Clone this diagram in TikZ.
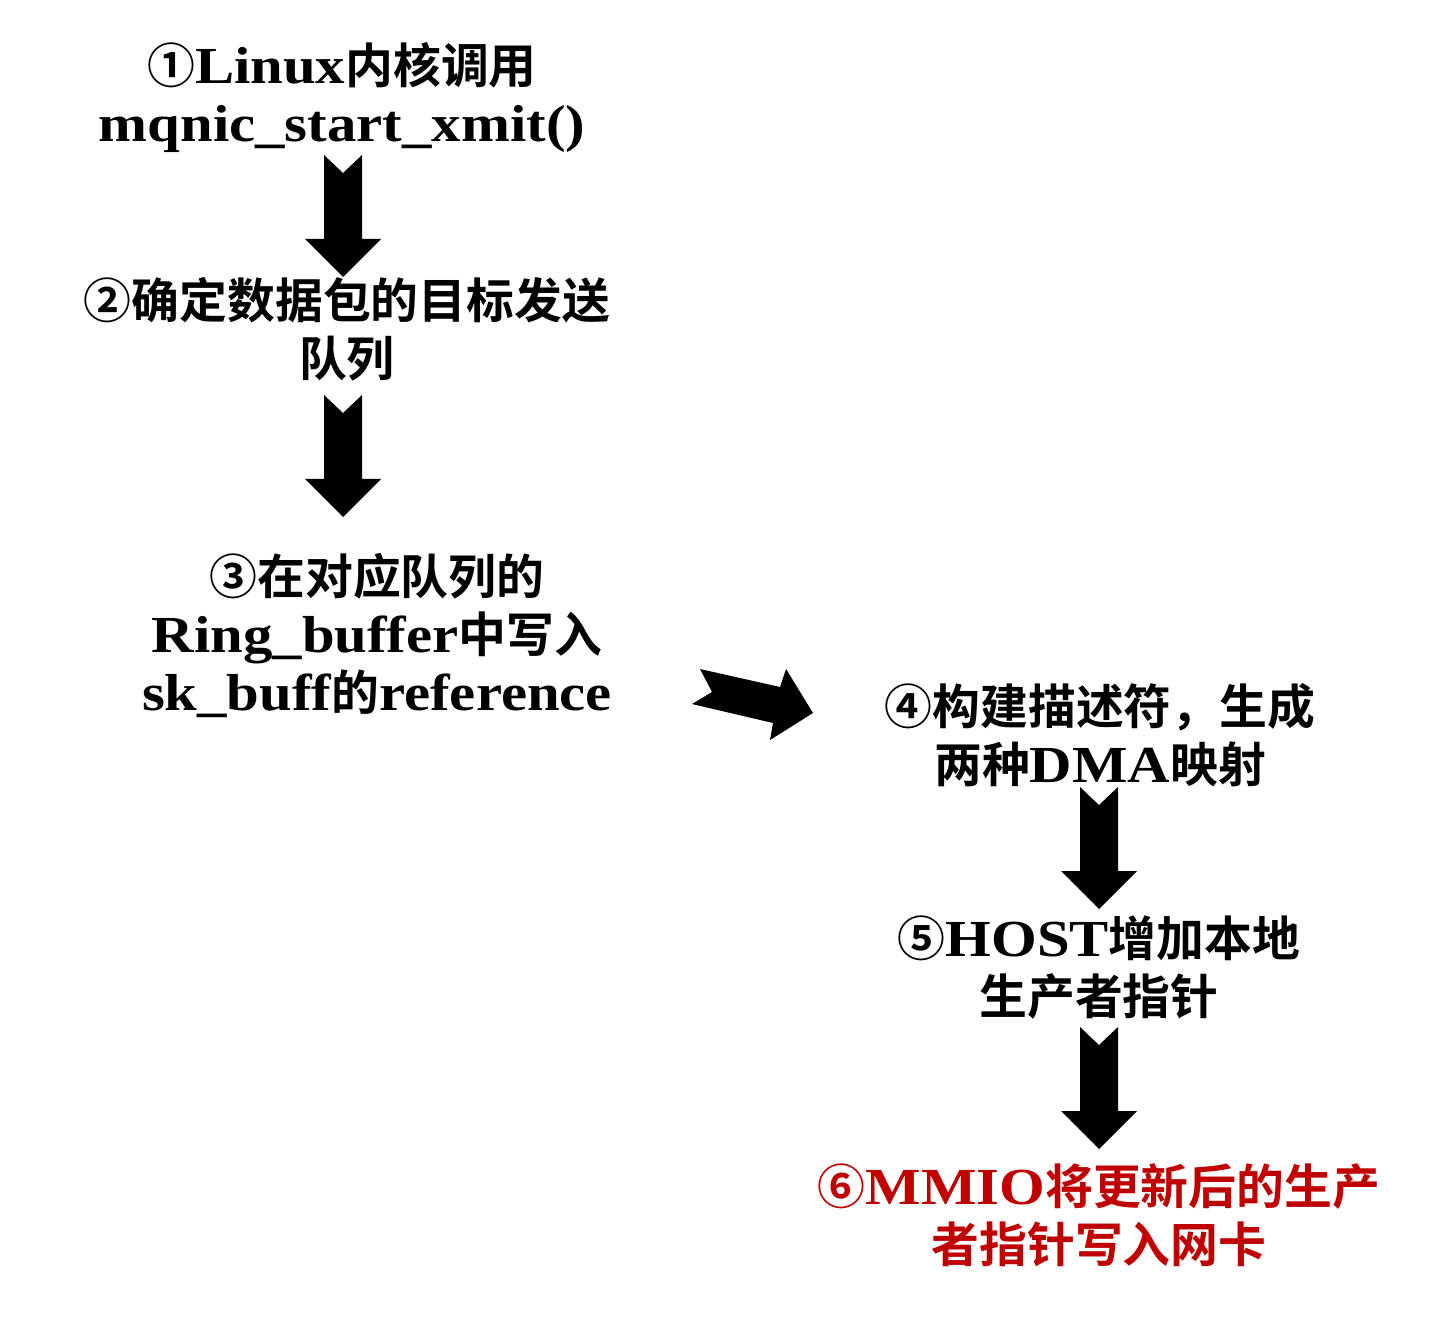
\documentclass[tikz,border=0pt]{standalone}
\usepackage{fontspec}
\setmainfont{Liberation Serif}[FakeStretch=1.13]
\newfontfamily\cjk{Noto Sans CJK SC}[BoldFont={* Bold},Scale=0.92]
\definecolor{stepred}{RGB}{192,0,0}
\tikzset{
  steptext/.style={align=center,inner sep=0pt,font=\fontsize{52}{58}\selectfont\bfseries},
  blockarrow/.style={fill=black},
}
\newcommand\blockdown[2]{%
  \fill[blockarrow] ({#1-19},#2) -- (#1,{#2+18}) -- ({#1+19},#2) -- ({#1+19},{#2+84}) --
    ({#1+38},{#2+84}) -- (#1,{#2+122}) -- ({#1-38},{#2+84}) -- ({#1-19},{#2+84}) -- cycle;}
\begin{document}
\begin{tikzpicture}[x=1pt,y=-1pt]
\useasboundingbox (0,0) rectangle (1444,1329);
\node[steptext] (s1) at (342,97) {{\cjk ①}Linux{\cjk 内核调用}\\mqnic\_start\_xmit()};
\node[steptext] (s2) at (347,329) {{\cjk ②确定数据包的目标发送}\\{\cjk 队列}};
\node[steptext] (s3) at (377,636) {{\cjk ③在对应队列的}\\Ring\_buffer{\cjk 中写入}\\sk\_buff{\cjk 的}reference};
\node[steptext] (s4) at (1100,735) {{\cjk ④构建描述符，生成}\\{\cjk 两种}DMA{\cjk 映射}};
\node[steptext] (s5) at (1099,968) {{\cjk ⑤}HOST{\cjk 增加本地}\\{\cjk 生产者指针}};
\node[steptext,text=stepred] (s6) at (1099,1215) {{\cjk ⑥}MMIO{\cjk 将更新后的生产}\\{\cjk 者指针写入网卡}};
\blockdown{343}{155}
\blockdown{343}{395}
\blockdown{1099}{787}
\blockdown{1099}{1027}
\fill[blockarrow] (700,669) -- (780,687) -- (786,669) -- (813,713) -- (770,740) -- (773,723) -- (692,704) -- (712,692) -- cycle;
\end{tikzpicture}
\end{document}
